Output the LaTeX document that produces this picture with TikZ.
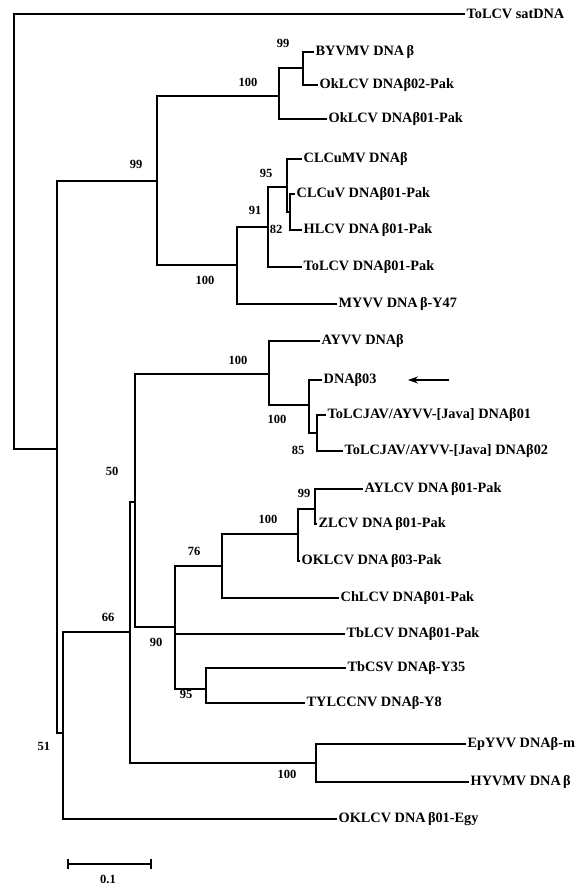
\documentclass[tikz,border=0pt]{standalone}
\usepackage{fontspec}
\setmainfont{Liberation Serif}
\usetikzlibrary{arrows.meta}
\begin{document}
\begin{tikzpicture}[x=1pt,y=-1pt,
  br/.style={draw=black, line width=1.6pt},
  tip/.style={anchor=west, inner sep=1.5pt, font=\fontsize{14.3}{16}\selectfont\bfseries},
  bs/.style={inner sep=0pt, font=\fontsize{12.5}{14}\selectfont\bfseries}]
\useasboundingbox (0,0) rectangle (581,887);
% internal nodes
\coordinate (root) at (14,232);
\coordinate (nA) at (57,449);
\coordinate (n99a) at (157,181);
\coordinate (n100a) at (279,96);
\coordinate (n99b) at (303,68);
\coordinate (n100b) at (237,265);
\coordinate (n91) at (268,227);
\coordinate (n95) at (287,187);
\coordinate (n82) at (290,212);
\coordinate (n51) at (63,733);
\coordinate (n66) at (130,632);
\coordinate (n50) at (135,502);
\coordinate (n100c) at (269,374);
\coordinate (n100d) at (309,405);
\coordinate (n85) at (317,433);
\coordinate (n90) at (175,627);
\coordinate (n76) at (222,566);
\coordinate (n100e) at (298,534);
\coordinate (n99c) at (315,509);
\coordinate (n95b) at (206,689);
\coordinate (n100f) at (316,763);
% tips
\coordinate (tSat) at (465,14);
\coordinate (tBYVMV) at (314,52);
\coordinate (tOk02) at (318,85);
\coordinate (tOk01) at (327,119);
\coordinate (tCLCuMV) at (302,159);
\coordinate (tCLCuV) at (295,194);
\coordinate (tHLCV) at (302,230);
\coordinate (tToLCV) at (302,267);
\coordinate (tMYVV) at (337,304);
\coordinate (tAYVV) at (320,341);
\coordinate (tB03) at (322,380);
\coordinate (tJ01) at (326,415);
\coordinate (tJ02) at (343,451);
\coordinate (tAYLCV) at (363,489);
\coordinate (tZLCV) at (317,524);
\coordinate (tOK03) at (300,561);
\coordinate (tChLCV) at (339,598);
\coordinate (tTbLCV) at (345,634);
\coordinate (tTbCSV) at (346,668);
\coordinate (tTYLCCNV) at (305,703);
\coordinate (tEpYVV) at (466,744);
\coordinate (tHYVMV) at (469,782);
\coordinate (tEgy) at (337,819);
% branches
\draw[br] (root) |- (tSat);
\draw[br] (root) |- (nA);
\draw[br] (nA) |- (n99a);
\draw[br] (nA) |- (n51);
\draw[br] (n99a) |- (n100a);
\draw[br] (n99a) |- (n100b);
\draw[br] (n100a) |- (n99b);
\draw[br] (n100a) |- (tOk01);
\draw[br] (n99b) |- (tBYVMV);
\draw[br] (n99b) |- (tOk02);
\draw[br] (n100b) |- (n91);
\draw[br] (n100b) |- (tMYVV);
\draw[br] (n91) |- (n95);
\draw[br] (n91) |- (tToLCV);
\draw[br] (n95) |- (tCLCuMV);
\draw[br] (n95) |- (n82);
\draw[br] (n82) |- (tCLCuV);
\draw[br] (n82) |- (tHLCV);
\draw[br] (n51) |- (n66);
\draw[br] (n51) |- (tEgy);
\draw[br] (n66) |- (n50);
\draw[br] (n66) |- (n100f);
\draw[br] (n50) |- (n100c);
\draw[br] (n50) |- (n90);
\draw[br] (n100c) |- (tAYVV);
\draw[br] (n100c) |- (n100d);
\draw[br] (n100d) |- (tB03);
\draw[br] (n100d) |- (n85);
\draw[br] (n85) |- (tJ01);
\draw[br] (n85) |- (tJ02);
\draw[br] (n90) |- (n76);
\draw[br] (n90) |- (tTbLCV);
\draw[br] (n90) |- (n95b);
\draw[br] (n76) |- (n100e);
\draw[br] (n76) |- (tChLCV);
\draw[br] (n100e) |- (n99c);
\draw[br] (n100e) |- (tOK03);
\draw[br] (n99c) |- (tAYLCV);
\draw[br] (n99c) |- (tZLCV);
\draw[br] (n95b) |- (tTbCSV);
\draw[br] (n95b) |- (tTYLCCNV);
\draw[br] (n100f) |- (tEpYVV);
\draw[br] (n100f) |- (tHYVMV);
% tip labels
\node[tip] (lSat) at (tSat) {ToLCV satDNA};
\node[tip] (lBYVMV) at (tBYVMV) {BYVMV DNA\,β};
\node[tip] (lOk02) at (tOk02) {OkLCV DNAβ02-Pak};
\node[tip] (lOk01) at (tOk01) {OkLCV DNAβ01-Pak};
\node[tip] (lCLCuMV) at (tCLCuMV) {CLCuMV DNAβ};
\node[tip] (lCLCuV) at (tCLCuV) {CLCuV DNAβ01-Pak};
\node[tip] (lHLCV) at (tHLCV) {HLCV DNA\,β01-Pak};
\node[tip] (lToLCV) at (tToLCV) {ToLCV DNAβ01-Pak};
\node[tip] (lMYVV) at (tMYVV) {MYVV DNA\,β-Y47};
\node[tip] (lAYVV) at (tAYVV) {AYVV DNAβ};
\node[tip] (lB03) at (tB03) {DNAβ03};
\node[tip] (lJ01) at (tJ01) {ToLCJAV/AYVV-[Java] DNAβ01};
\node[tip] (lJ02) at (tJ02) {ToLCJAV/AYVV-[Java] DNAβ02};
\node[tip] (lAYLCV) at (tAYLCV) {AYLCV DNA\,β01-Pak};
\node[tip] (lZLCV) at (tZLCV) {ZLCV DNA\,β01-Pak};
\node[tip] (lOK03) at (tOK03) {OKLCV DNA\,β03-Pak};
\node[tip] (lChLCV) at (tChLCV) {ChLCV DNAβ01-Pak};
\node[tip] (lTbLCV) at (tTbLCV) {TbLCV DNAβ01-Pak};
\node[tip] (lTbCSV) at (tTbCSV) {TbCSV DNAβ-Y35};
\node[tip] (lTYLCCNV) at (tTYLCCNV) {TYLCCNV DNAβ-Y8};
\node[tip] (lEpYVV) at (tEpYVV) {EpYVV DNAβ-m};
\node[tip] (lHYVMV) at (tHYVMV) {HYVMV DNA\,β};
\node[tip] (lEgy) at (tEgy) {OKLCV DNA\,β01-Egy};
% bootstrap values
\node[bs] (b1) at (283,43) {99};
\node[bs] (b2) at (248,82) {100};
\node[bs] (b3) at (136,164) {99};
\node[bs] (b4) at (266,173) {95};
\node[bs] (b5) at (255,210) {91};
\node[bs] (b6) at (276,229) {82};
\node[bs] (b7) at (205,280) {100};
\node[bs] (b8) at (238,360) {100};
\node[bs] (b9) at (277,419) {100};
\node[bs] (b10) at (298,450) {85};
\node[bs] (b11) at (112,471) {50};
\node[bs] (b12) at (304,493) {99};
\node[bs] (b13) at (268,519) {100};
\node[bs] (b14) at (194,551) {76};
\node[bs] (b15) at (108,617) {66};
\node[bs] (b16) at (156,642) {90};
\node[bs] (b17) at (186,694) {95};
\node[bs] (b18) at (44,746) {51};
\node[bs] (b19) at (287,774) {100};
% arrow
\coordinate (arS) at (449,380);
\coordinate (arE) at (408,380);
\draw[line width=1.3pt, -{Stealth[length=10pt,width=7pt]}] (arS) -- (arE);
% scale bar
\coordinate (sbL) at (68,864);
\coordinate (sbR) at (151,864);
\draw[br] (sbL) -- (sbR);
\draw[line width=1.4pt] ([yshift=-5pt]sbL) -- ([yshift=5pt]sbL);
\draw[line width=1.4pt] ([yshift=-5pt]sbR) -- ([yshift=5pt]sbR);
\node[bs] (sbT) at (108,879) {0.1};
\end{tikzpicture}
\end{document}
